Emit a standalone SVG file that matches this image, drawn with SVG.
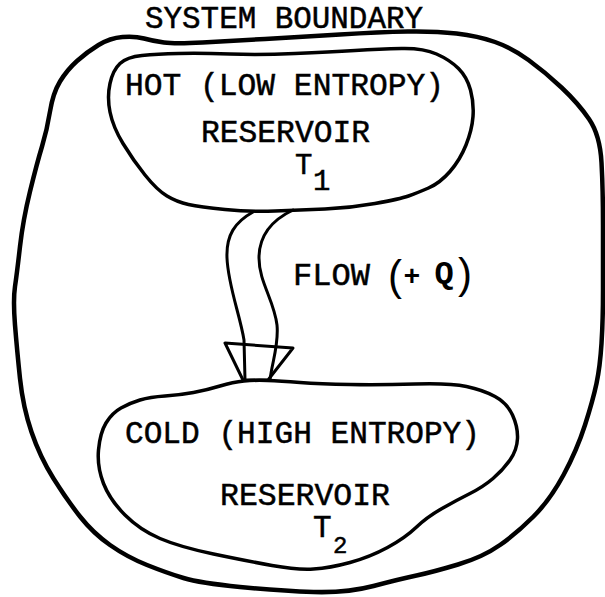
<svg xmlns="http://www.w3.org/2000/svg" width="605" height="597" viewBox="0 0 605 597">
  <style>
    .line { fill: none; stroke: #000; stroke-linecap: round; stroke-linejoin: round; }
    .outer { stroke-width: 4.5; }
    .res { stroke-width: 3.5; }
    .flow { stroke-width: 3; }
    .t { font-family: "Liberation Mono", "DejaVu Sans Mono", monospace; font-size: 31px; fill: #000; stroke: #000; stroke-width: 0.5; }
    .hand { font-family: "Liberation Mono", "DejaVu Sans Mono", monospace; font-weight: bold; fill: #000; text-anchor: middle; }
    .paren { font-family: "Liberation Sans", Arial, sans-serif; font-size: 42px; fill: #000; text-anchor: middle; }
  </style>
  <rect width="605" height="597" fill="#fff"/>

  <!-- system boundary -->
  <g id="system-boundary">
    <text class="t" x="145" y="28" textLength="278" lengthAdjust="spacingAndGlyphs">SYSTEM BOUNDARY</text>
    <path class="line outer" d="M 122.5,37 Q 135,36 144,38.5 Q 153,41 164,42.5 Q 175,44 202.5,42.5 Q 230,41 265,39 Q 300,37 340,34.5 Q 380,32 407.5,31.5 Q 435,31 456.5,33.5 Q 478,36 495,42 Q 512,48 528.5,60 Q 545,72 561.5,87.5 Q 578,103 589,119 Q 600,135 601.5,162.5 Q 603,190 603,225 Q 603,260 603,290 Q 603,320 601.5,343.5 Q 600,367 596.5,383.5 Q 593,400 585,425 Q 577,450 563.5,475 Q 550,500 533.5,516.5 Q 517,533 500,545 Q 483,557 458,564.5 Q 433,572 416.5,575.5 Q 400,579 373.5,586 Q 347,593 313.5,592 Q 280,591 240,587 Q 200,583 183.5,578 Q 167,573 147,565 Q 127,557 110,545 Q 93,533 80,516.5 Q 67,500 53.5,478.5 Q 40,457 31.5,432 Q 23,407 20,378.5 Q 17,350 15,325 Q 13,300 15,286.5 Q 17,273 20,246.5 Q 23,220 30,191.5 Q 37,163 42,146.5 Q 47,130 50,111.5 Q 53,93 60,81.5 Q 67,70 77,61 Q 87,52 98.5,45 Q 110,38 122.5,37 Z"/>
  </g>

  <!-- hot reservoir -->
  <g id="hot-reservoir">
    <path class="line res" d="M 142,55.5 Q 157,54 178.5,53.5 Q 200,53 230,54 Q 260,55 295,53.5 Q 330,52 355,50.5 Q 380,49 401.5,48.5 Q 423,48 436.5,54 Q 450,60 458.5,68.5 Q 467,77 470.5,90 Q 474,103 473,116.5 Q 472,130 466,145 Q 460,160 450,171.5 Q 440,183 428.5,188 Q 417,193 408.5,196 Q 400,199 375,203.5 Q 350,208 325,209 Q 300,210 275,211 Q 250,212 225,209.5 Q 200,207 188.5,204.5 Q 177,202 167,196 Q 157,190 145,175 Q 133,160 123,143.5 Q 113,127 110,112 Q 107,97 110,83.5 Q 113,70 120,63.5 Q 127,57 142,55.5 Z"/>
    <text class="t" x="125" y="95" textLength="319" lengthAdjust="spacingAndGlyphs">HOT (LOW ENTROPY)</text>
    <text class="t" x="201" y="142" textLength="169" lengthAdjust="spacingAndGlyphs">RESERVOIR</text>
    <text class="t" x="295" y="174" style="font-size:29px">T</text>
    <text class="t" x="313" y="190" style="font-size:29px">1</text>
  </g>

  <!-- cold reservoir -->
  <g id="cold-reservoir">
    <path class="line res" d="M 140,400 Q 150,397 165,396 Q 180,395 193.5,392.5 Q 207,390 220,386 Q 233,382 244,381 Q 255,380 267.5,380.5 Q 280,381 300,382.5 Q 320,384 350,384.5 Q 380,385 415,384 Q 450,383 466.5,386.5 Q 483,390 495,396.5 Q 507,403 512.5,415 Q 518,427 517.5,438.5 Q 517,450 510,460 Q 503,470 493,478.5 Q 483,487 470,493.5 Q 457,500 442,508.5 Q 427,517 416,527.5 Q 405,538 387.5,547.5 Q 370,557 350,562.5 Q 330,568 313.5,569 Q 297,570 272,565.5 Q 247,561 213.5,554 Q 180,547 160,538.5 Q 140,530 125,515 Q 110,500 103.5,483.5 Q 97,467 98.5,450 Q 100,433 106,423 Q 112,413 121,408 Q 130,403 140,400 Z"/>
    <text class="t" x="125" y="443" textLength="355" lengthAdjust="spacingAndGlyphs">COLD (HIGH ENTROPY)</text>
    <text class="t" x="220" y="505" textLength="170" lengthAdjust="spacingAndGlyphs">RESERVOIR</text>
    <text class="t" x="313" y="537">T</text>
    <text class="t" x="333" y="553" style="font-size:24px">2</text>
  </g>

  <!-- heat flow from hot to cold -->
  <g id="connectors">
    <g id="heat-flow">
      <path class="line flow" d="M 253,212 C 235,222 226,235 227,258 C 228,285 240,315 244,340 L 245,380"/>
      <path class="line flow" d="M 293,210 C 272,220 259,235 259,258 C 259,282 274,300 277,325 C 279,345 272,362 270,380"/>
      <path class="line flow" d="M 225,343 L 293,348 L 268,380 L 243,380 Z"/>
    </g>
    <g id="flow-label">
      <text class="t" x="293" y="285" textLength="77" lengthAdjust="spacingAndGlyphs">FLOW</text>
      <text class="paren" x="395" y="290">(</text>
      <text class="hand" x="412" y="285" style="font-size:28px">+</text>
      <text class="hand" x="444" y="283" style="font-size:32px">Q</text>
      <text class="paren" x="465" y="288">)</text>
    </g>
  </g>
</svg>
